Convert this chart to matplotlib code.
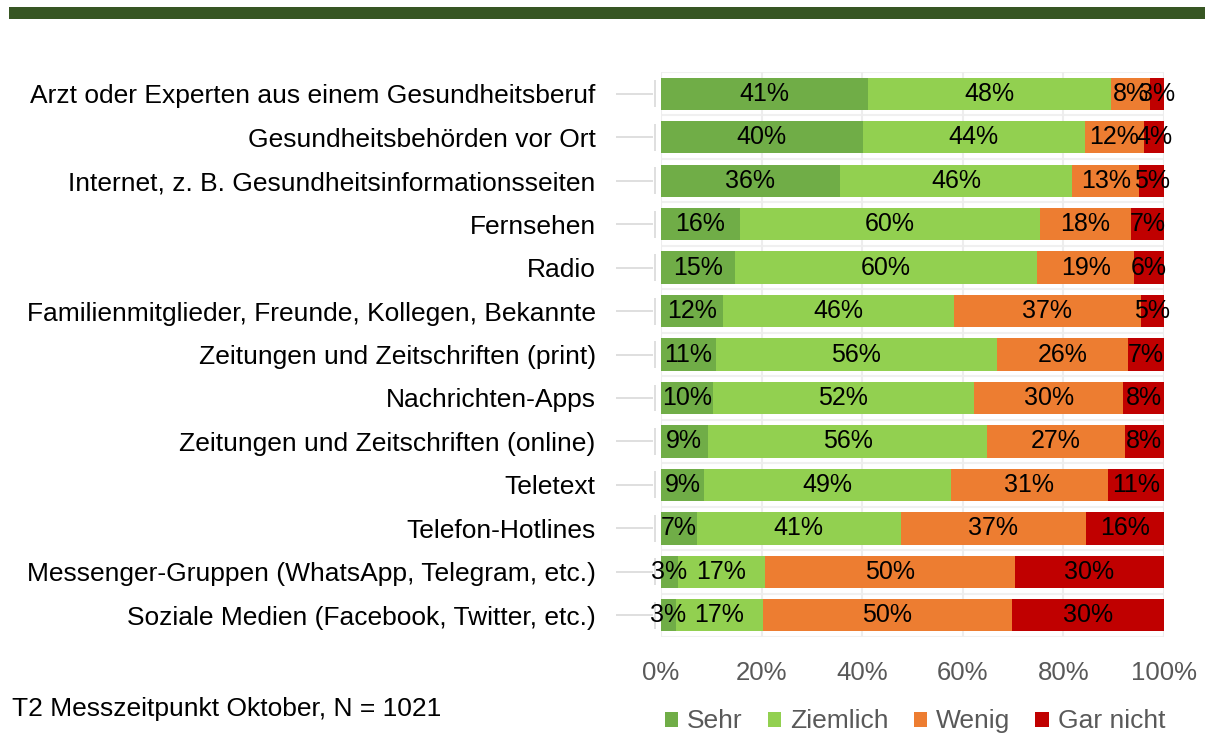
import matplotlib.pyplot as plt
from matplotlib.patches import Rectangle
import numpy as np

plt.rcParams['font.family'] = ['Liberation Sans', 'DejaVu Sans']

categories = [
    "Arzt oder Experten aus einem Gesundheitsberuf",
    "Gesundheitsbehörden vor Ort",
    "Internet, z. B. Gesundheitsinformationsseiten",
    "Fernsehen",
    "Radio",
    "Familienmitglieder, Freunde, Kollegen, Bekannte",
    "Zeitungen und Zeitschriften (print)",
    "Nachrichten-Apps",
    "Zeitungen und Zeitschriften (online)",
    "Teletext",
    "Telefon-Hotlines",
    "Messenger-Gruppen (WhatsApp, Telegram, etc.)",
    "Soziale Medien (Facebook, Twitter, etc.)",
]
sehr = [41.1, 40.1, 35.6, 15.7, 14.7, 12.3, 11.0, 10.3, 9.3, 8.6, 7.1, 3.3, 3.0]
ziemlich = [48.4, 44.1, 46.1, 59.7, 60.1, 45.9, 55.7, 51.9, 55.6, 49.0, 40.6, 17.4, 17.2]
wenig = [7.8, 11.8, 13.4, 18.0, 19.3, 37.2, 26.2, 29.7, 27.3, 31.2, 36.7, 49.6, 49.6]
gar_nicht = [2.7, 4.0, 4.9, 6.6, 5.9, 4.6, 7.1, 8.1, 7.8, 11.2, 15.6, 29.7, 30.2]

series = {"Sehr": sehr, "Ziemlich": ziemlich, "Wenig": wenig, "Gar nicht": gar_nicht}
colors = ["#70AD47", "#92D050", "#ED7D31", "#C00000"]
xticks = [0, 20, 40, 60, 80, 100]

fig = plt.figure(figsize=(12.05, 7.34), dpi=100)
ax = fig.add_axes([0.5485, 0.132, 0.4175, 0.77])

# dark green band at the top
fig.patches.append(Rectangle((0.0075, 0.974), 0.9925, 0.017, transform=fig.transFigure,
                             facecolor="#375623", edgecolor="none"))

y = np.arange(len(categories))
left = np.zeros(len(categories))
for (name, vals), col in zip(series.items(), colors):
    vals = np.array(vals)
    bars = ax.barh(y, vals, left=left, height=0.74, color=col, label=name, zorder=3)
    ax.bar_label(bars, labels=[f"{v:.0f}%" for v in vals], label_type="center",
                 fontsize=18, color="black", zorder=4)
    left += vals

ax.spines["left"].set_position(("outward", 6))
ax.spines["left"].set_visible(False)
for s in ["top", "right", "bottom"]:
    ax.spines[s].set_visible(False)

ax.set_xlim(0, 100)
ax.set_ylim(len(categories) - 0.5, -0.5)
ax.set_xticks(xticks)
ax.set_xticklabels([f"{t}%" for t in xticks], fontsize=18.5, color="#595959")
ax.tick_params(axis="x", length=0, pad=17)

ax.set_yticks(y)
ax.set_yticklabels(categories, fontsize=19, color="black")
ax.tick_params(axis="y", direction="out", length=27, color="#D9D9D9", width=1.2, pad=14)

ax.grid(axis="x", color="#EDEDED", lw=1.5, zorder=0)
for b in np.arange(-0.5, len(categories) + 0.5, 1):
    ax.axhline(b, color="#F0F0F0", lw=1.5, zorder=0)

# short axis segments next to each bar
ax.vlines([-1.2] * len(y), y - 0.31, y + 0.31, color="#D9D9D9", lw=1.2, clip_on=False)

ax.legend(loc="upper center", bbox_to_anchor=(0.505, -0.128), ncol=4, frameon=False,
          fontsize=19, labelcolor="#595959", handlelength=0.5, handleheight=0.5,
          handletextpad=0.35, columnspacing=0.95, borderaxespad=0, borderpad=0)

fig.text(0.01, 0.025, "T2 Messzeitpunkt Oktober, N = 1021", fontsize=19, color="black")

fig.savefig("out.png", dpi=100)
